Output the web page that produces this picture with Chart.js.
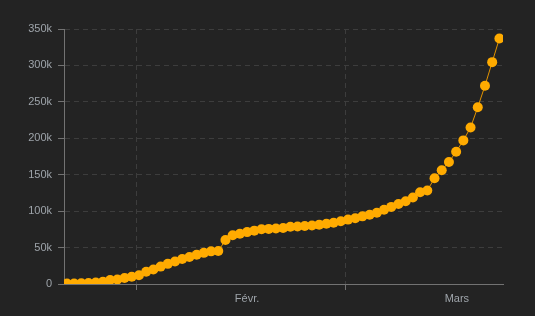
<!DOCTYPE html>
<html>
<head>
<meta charset="utf-8">
<script src="https://cdn.jsdelivr.net/npm/chart.js@4.4.1/dist/chart.umd.min.js"></script>
<style>
  html, body { margin: 0; padding: 0; background: #232323; }
  #wrap { width: 535px; height: 316px; }
</style>
</head>
<body>
<div id="wrap"><canvas id="chart" width="535" height="316"></canvas></div>
<script>
// cumulative cases, one per day from 22 Jan to 22 Mar
const cases = [
    555, 654, 941, 1434, 2118, 2927, 5578, 6166, 8234, 9927,
    12038, 16787, 19881, 23892, 27635, 30817, 34391, 37120, 40150, 42762,
    44802, 45221, 60368, 66885, 69030, 71224, 73258, 75136, 75639, 76197,
    76819, 78572, 78958, 79561, 80406, 81388, 82746, 84112, 86011, 88369,
    90306, 92840, 95120, 97886, 101801, 105847, 109821, 113590, 118620, 125875,
    128352, 145205, 156101, 167454, 181574, 197102, 214821, 242570, 272208, 304507,
    336953
];

// x axis: month boundaries (grid lines) and month labels (day index)
const monthStarts = [9.6, 38.6];
const monthLabels = ['Févr.', 'Mars'];
const monthLabelPos = [25, 54.1];

const yTicks = [0, 50000, 100000, 150000, 200000, 250000, 300000, 350000];

const points = cases.map((v, i) => ({ x: i, y: v }));

const textColor = '#9ea4aa';
const gridColor = '#3d3d3d';
const axisColor = '#727272';

const ctx = document.getElementById('chart').getContext('2d');
const chart = new Chart(ctx, {
    type: 'line',
    data: {
        datasets: [{
            data: points,
            borderColor: '#e39400',
            borderWidth: 1,
            pointRadius: 5,
            pointBackgroundColor: '#ffab00',
            pointBorderColor: '#ffab00',
            pointBorderWidth: 0,
            fill: false,
            tension: 0
        }]
    },
    options: {
        responsive: false,
        animation: false,
        layout: { padding: { top: 29, right: 32, bottom: 0, left: 0 } },
        plugins: {
            legend: { display: false },
            tooltip: { enabled: false }
        },
        scales: {
            x: {
                type: 'linear',
                min: -0.4,
                max: 60.5,
                afterBuildTicks: (scale) => {
                    const t = [];
                    monthStarts.forEach(v => t.push({ value: v, label: '' }));
                    monthLabelPos.forEach((v, i) => t.push({ value: v, label: monthLabels[i] }));
                    scale.ticks = t;
                },
                afterFit: (scale) => { scale.height = 32; },
                ticks: {
                    autoSkip: false,
                    maxRotation: 0,
                    padding: 2,
                    color: textColor,
                    font: { family: 'Liberation Sans', size: 11 },
                    callback: function (value, index) {
                        return this.ticks[index].label;
                    }
                },
                grid: {
                    color: (c) => (c.tick && c.tick.label === '' ? gridColor : 'rgba(0,0,0,0)'),
                    tickColor: (c) => (c.tick && c.tick.label === '' ? axisColor : 'rgba(0,0,0,0)'),
                    tickBorderDash: [],
                    tickLength: 6,
                    lineWidth: 1
                },
                border: { display: true, color: axisColor, width: 1, dash: [5, 4] }
            },
            y: {
                min: 0,
                max: 350000,
                afterBuildTicks: (scale) => {
                    scale.ticks = yTicks.map(v => ({ value: v }));
                },
                afterFit: (scale) => { scale.width = 64; },
                ticks: {
                    padding: 6,
                    color: textColor,
                    font: { family: 'Liberation Sans', size: 11 },
                    callback: (v) => (v === 0 ? '0' : (v / 1000) + 'k')
                },
                grid: {
                    color: (c) => (c.tick && c.tick.value === 0 ? 'rgba(0,0,0,0)' : gridColor),
                    tickColor: axisColor,
                    tickBorderDash: [],
                    tickLength: 6,
                    lineWidth: 1
                },
                border: { display: true, color: axisColor, width: 1, dash: [5, 4] }
            }
        }
    }
});
</script>
</body>
</html>
